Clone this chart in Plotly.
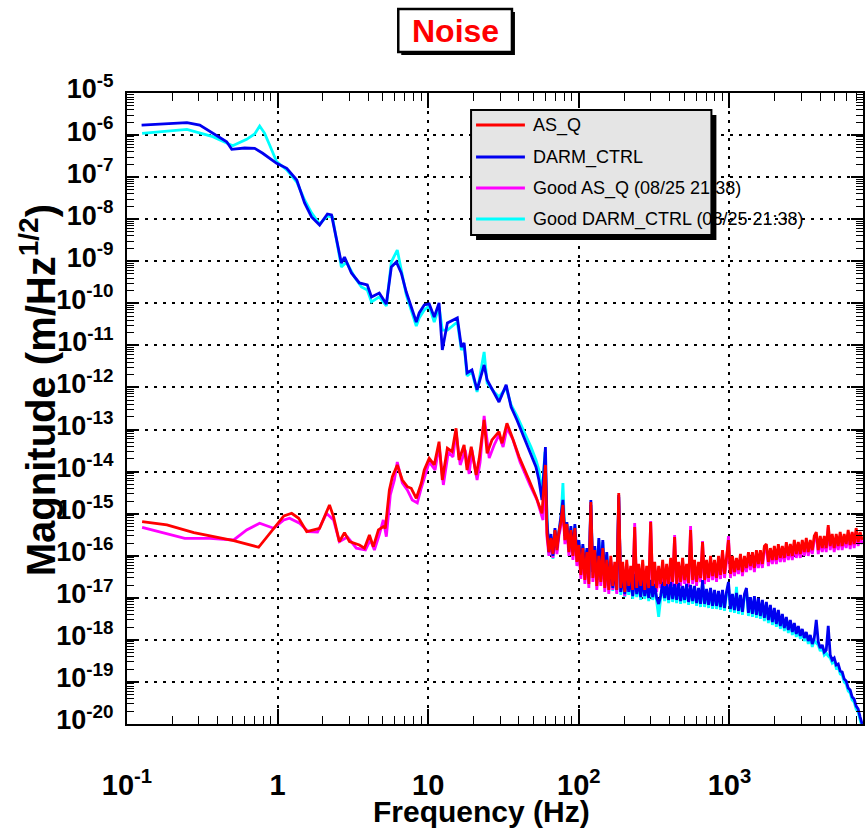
import plotly.graph_objects as go

# ---------------- data ----------------
series_names = ["AS_Q", "DARM_CTRL", "Good AS_Q (08/25 21:38)", "Good DARM_CTRL (08/25 21:38)"]
series_colors = ["#ff0000", "#0000f0", "#ff00ff", "#00ffff"]

x_tick_vals = [0.1, 1, 10, 100, 1000]
x_tick_text = ["10<sup>-1</sup>", "1", "10", "10<sup>2</sup>", "10<sup>3</sup>"]
y_tick_vals = [1e-5, 1e-6, 1e-7, 1e-8, 1e-9, 1e-10, 1e-11, 1e-12, 1e-13, 1e-14,
               1e-15, 1e-16, 1e-17, 1e-18, 1e-19, 1e-20]
y_tick_text = ["10<sup>-5</sup>", "10<sup>-6</sup>", "10<sup>-7</sup>", "10<sup>-8</sup>",
               "10<sup>-9</sup>", "10<sup>-10</sup>", "10<sup>-11</sup>", "10<sup>-12</sup>",
               "10<sup>-13</sup>", "10<sup>-14</sup>", "10<sup>-15</sup>", "10<sup>-16</sup>",
               "10<sup>-17</sup>", "10<sup>-18</sup>", "10<sup>-19</sup>", "10<sup>-20</sup>"]

# ---- low-frequency part, up to the 60 Hz line (Hz, m/Hz^1/2) ----
asq_lf_freq = [0.126, 0.184, 0.278, 0.511, 0.748, 0.941, 1.10, 1.24, 1.38, 1.56, 1.73, 1.90,
               2.21, 2.35, 2.57, 2.78, 3.0, 3.49, 3.77, 4.07, 4.32, 4.67, 5.03, 5.19, 5.52,
               5.78, 6.23, 6.73, 7.26, 7.71, 8.33, 8.99, 9.41, 10.15, 10.96, 11.8, 12.4, 13.4,
               14.4, 15.3, 16.0, 17.3, 18.1, 19.3, 20.8, 21.8, 23.5, 24.6, 26.5, 29.5, 30.9,
               33.3, 36.0, 40.1, 46.7, 51.9, 56.9, 60.0]
asq_lf_mag = [6.46e-16, 5.39e-16, 3.53e-16, 2.28e-16, 1.59e-16, 4.5e-16, 8.81e-16, 1.02e-15,
              7.78e-16, 3.73e-16, 4.1e-16, 4.5e-16, 1.61e-15, 8.49e-16, 2.16e-16, 3.53e-16,
              2.16e-16, 1.8e-16, 1.51e-16, 3.12e-16, 1.64e-16, 4.1e-16, 4.91e-16, 4.5e-16,
              3.66e-15, 7.58e-15, 1.44e-14, 6.32e-15, 4.38e-15, 4.02e-15, 2.32e-15, 5.28e-15,
              1.09e-14, 2.07e-14, 1.44e-14, 5.14e-14, 6.32e-15, 3.59e-14, 2.98e-14, 1.07e-13,
              1.89e-14, 4.3e-14, 1.09e-14, 3.91e-14, 8.32e-15, 2.07e-14, 1.69e-13, 2.73e-14,
              5.65e-14, 8.89e-14, 4.71e-14, 1.41e-13, 6.76e-14, 2.26e-14, 6.32e-15, 2.54e-15,
              1.02e-15, 1.44e-14]

darm_lf_freq = [0.125, 0.179, 0.250, 0.304, 0.394, 0.459, 0.496, 0.604, 0.704, 0.796, 0.985,
                1.15, 1.34, 1.51, 1.68, 1.90, 2.14, 2.28, 2.65, 2.78, 3.09, 3.49, 3.94, 4.20,
                4.73, 5.27, 5.69, 6.14, 6.62, 7.15, 8.33, 8.71, 9.41, 10.15, 10.96, 11.8, 12.4,
                13.4, 15.6, 16.6, 17.3, 18.1, 19.5, 21.1, 23.5, 24.6, 27.4, 29.5, 32.9, 35.5,
                38.8, 43.2, 48.1, 51.9, 54.3, 56.9, 60.0]
darm_lf_mag = [1.73e-6, 1.88e-6, 1.97e-6, 1.73e-6, 1.0e-6, 6.95e-7, 4.59e-7, 4.93e-7, 4.85e-7,
               3.69e-7, 2.13e-7, 1.62e-7, 8.55e-8, 2.43e-8, 1.13e-8, 7.28e-9, 1.33e-8, 1.26e-8,
               9.1e-10, 1.26e-9, 5.27e-10, 3.05e-10, 2.73e-10, 1.42e-10, 1.76e-10, 9.66e-11,
               7.31e-10, 9.6e-10, 5.27e-10, 1.86e-10, 3.6e-11, 5.9e-11, 9.14e-11, 9.66e-11,
               4.73e-11, 1.02e-10, 7.78e-12, 3.41e-11, 4.49e-11, 9.17e-12, 1.14e-11, 2.21e-12,
               2.61e-12, 8.71e-13, 3.43e-12, 1.51e-12, 7.4e-13, 4.52e-13, 1.15e-12, 3.44e-13,
               1.69e-13, 6.65e-14, 2.77e-14, 1.29e-14, 6.32e-15, 2.12e-15, 3.85e-14]

good_asq_lf_freq = [0.126, 0.242, 0.355, 0.511, 0.623, 0.760, 0.941, 1.10, 1.20, 1.40, 1.60,
                    1.84, 2.11, 2.35, 2.57, 2.91, 3.33, 3.83, 4.13, 4.39, 4.73, 5.03, 5.27,
                    5.60, 5.96, 6.23, 6.73, 7.26, 7.83, 8.46, 8.99, 9.55, 10.15, 11.1, 11.8,
                    12.6, 13.6, 14.6, 15.3, 16.3, 17.6, 18.7, 19.5, 21.1, 22.1, 23.5, 25.4,
                    27.4, 29.5, 31.4, 33.3, 36.6, 40.7, 47.3, 52.7, 57.8, 60.0]
good_asq_lf_mag = [4.75e-16, 2.6e-16, 2.6e-16, 2.37e-16, 4.1e-16, 5.91e-16, 4.5e-16, 7.08e-16,
                   7.78e-16, 5.91e-16, 3.73e-16, 3.67e-16, 1.02e-15, 7.08e-16, 2.16e-16,
                   2.79e-16, 1.51e-16, 1.37e-16, 2.37e-16, 1.37e-16, 3.12e-16, 7.08e-16,
                   2.84e-16, 2.78e-15, 6.32e-15, 1.69e-14, 5.37e-15, 3.66e-15, 2.12e-15,
                   1.8e-15, 4.08e-15, 8.32e-15, 1.69e-14, 1.09e-14, 4.06e-14, 4.81e-15,
                   2.93e-14, 2.23e-14, 8.75e-14, 1.44e-14, 3.27e-14, 8.79e-15, 3.27e-14,
                   6.32e-15, 1.69e-14, 2.1e-13, 2.11e-14, 4.3e-14, 7.43e-14, 3.85e-14,
                   1.09e-13, 5.65e-14, 1.69e-14, 4.81e-15, 2.12e-15, 7.08e-16, 1.09e-14]

good_darm_lf_freq = [0.126, 0.179, 0.250, 0.371, 0.503, 0.623, 0.704, 0.760, 0.820, 0.885,
                     0.985, 1.15, 1.34, 1.51, 1.68, 1.90, 2.14, 2.31, 2.65, 2.86, 3.24, 3.60,
                     3.94, 4.20, 4.73, 5.27, 5.69, 6.23, 6.62, 7.15, 8.33, 8.71, 9.41, 10.15,
                     10.96, 11.8, 12.4, 13.4, 15.6, 16.6, 17.3, 18.1, 19.5, 21.1, 23.5, 24.6,
                     27.4, 29.5, 32.9, 35.5, 38.8, 43.2, 48.1, 51.9, 54.3, 56.9, 59.6]
good_darm_lf_mag = [1.1e-6, 1.25e-6, 1.37e-6, 9.15e-7, 5.59e-7, 7.93e-7, 1.06e-6, 1.64e-6,
                    1.1e-6, 5.81e-7, 2.33e-7, 1.48e-7, 7.67e-8, 2.86e-8, 1.41e-8, 7.69e-9,
                    1.19e-8, 1.13e-8, 7.31e-10, 9.6e-10, 4.23e-10, 2.45e-10, 2.08e-10,
                    1.08e-10, 1.42e-10, 8.65e-11, 9.6e-10, 1.85e-9, 6.21e-10, 1.58e-10,
                    2.9e-11, 4.49e-11, 6.95e-11, 8.65e-11, 3.6e-11, 8.19e-11, 2.32e-11,
                    2.32e-11, 3.6e-11, 7.78e-12, 1.02e-11, 1.88e-12, 2.33e-12, 7.82e-13,
                    6.98e-12, 1.28e-12, 7.82e-13, 5.94e-13, 9.72e-13, 3.84e-13, 2.1e-13,
                    9.25e-14, 3.85e-14, 1.89e-14, 1.09e-14, 2.78e-15, 2.93e-14]

# ---- high-frequency (noisy) part: common frequency list (Hz) ----
hf_freq = [61.4, 63.3, 65.3, 67.3, 69.4, 71.5, 73.7, 76.0, 78.4, 80.8, 83.3, 85.9, 88.5, 91.3,
           94.1, 97.0,
           100, 103.1, 106.3, 109.6, 113.0, 116.5, 120.1, 123.8, 127.6, 131.6,
           135.7, 139.9, 144.2, 148.6, 153.2, 158.0, 162.9, 167.9, 173.1, 178.5,
           184.0, 189.7, 195.6, 201.7, 207.9, 214.3, 220.9, 227.8, 234.8, 242.1,
           249.6, 257.4, 265.3, 273.6, 282.0, 290.8, 299.8, 309.1, 318.6, 328.5,
           338.7, 349.2, 360.0, 371.1, 382.6, 394.5, 406.7, 419.3, 432.3, 445.7,
           459.5, 473.7, 488.4, 503.5, 519.1, 535.2, 551.8, 568.8, 586.5, 604.6,
           623.4, 642.7, 662.6, 683.1, 704.3, 726.2, 748.6, 771.8, 795.7, 820.4,
           845.8, 872.0, 899.0, 926.8, 955.3, 984.9,
           1015, 1047, 1079, 1113, 1147, 1183, 1219, 1257, 1296, 1336,
           1378, 1420, 1464, 1510, 1556, 1604, 1654, 1705, 1758, 1813,
           1869, 1927, 1986, 2048, 2111, 2177, 2244, 2314, 2385, 2459,
           2535, 2614, 2695, 2778, 2864, 2953, 3044, 3139, 3236, 3336,
           3439, 3546, 3656, 3769, 3886, 4006, 4130, 4258, 4390, 4526,
           4666, 4810, 4959, 5113, 5271, 5435, 5603, 5776, 5955, 6140,
           6330, 6526, 6728, 6936, 7151, 7373, 7601]

asq_hf_mag = [3.47e-16, 1.22e-16, 2.63e-16, 1.10e-16, 4.08e-16, 1.36e-16, 3.66e-16, 6.33e-16,
              1.61e-15, 2.36e-16, 5.67e-16, 1.22e-16, 4.08e-16, 9.9e-17, 4.55e-16, 7.11e-17,
              1.8e-16, 3.49e-17, 1.52e-16, 2.65e-17, 1.22e-16, 2.13e-17, 1.9e-15, 2.96e-17, 1.36e-16, 1.91e-17,
              9.9e-17, 2.38e-17, 1.52e-16, 1.71e-17, 7.94e-17, 1.54e-17, 9.9e-17, 1.91e-17, 7.11e-17, 1.54e-17,
              3.1e-15, 1.71e-17, 7.11e-17, 1.38e-17, 7.94e-17, 1.91e-17, 5.71e-17, 1.54e-17, 4.81e-16, 1.71e-17,
              6.37e-17, 1.91e-17, 7.94e-17, 1.54e-17, 5.71e-17, 1.71e-17, 6.33e-16, 1.91e-17, 7.11e-17, 1.71e-17,
              5.71e-17, 2.13e-17, 7.94e-17, 1.91e-17, 6.37e-17, 2.13e-17, 8.87e-17, 2.38e-17, 2.79e-16, 2.13e-17,
              7.11e-17, 2.38e-17, 8.87e-17, 2.65e-17, 6.37e-17, 2.25e-17, 4.08e-16, 2.65e-17, 7.94e-17, 2.38e-17,
              7.11e-17, 2.96e-17, 2.11e-16, 2.65e-17, 7.94e-17, 2.96e-17, 9.9e-17, 3.30e-17, 7.94e-17, 2.96e-17,
              9.9e-17, 3.49e-17, 1.36e-16, 3.69e-17, 8.87e-17, 2.36e-16,
              3.69e-17, 9.9e-17, 4.11e-17, 8.87e-17, 4.59e-17, 1.10e-16, 4.11e-17, 9.9e-17, 5.12e-17, 1.22e-16,
              5.71e-17, 1.22e-16, 5.12e-17, 1.36e-16, 6.37e-17, 1.36e-16, 6.37e-17, 1.70e-16, 1.89e-16, 7.11e-17,
              1.52e-16, 7.94e-17, 1.70e-16, 7.94e-17, 1.89e-16, 8.87e-17, 1.70e-16, 8.87e-17, 2.11e-16, 9.9e-17,
              1.89e-16, 9.9e-17, 2.36e-16, 1.10e-16, 2.11e-16, 1.10e-16, 2.36e-16, 1.22e-16, 2.63e-16, 1.22e-16,
              2.36e-16, 1.36e-16, 2.94e-16, 3.66e-16, 1.36e-16, 2.94e-16, 1.52e-16, 2.94e-16, 1.52e-16, 5.37e-16,
              1.70e-16, 3.28e-16, 1.52e-16, 3.28e-16, 1.70e-16, 3.66e-16, 1.70e-16, 3.28e-16, 1.89e-16, 4.08e-16,
              1.8e-16, 3.66e-16, 1.89e-16, 4.55e-16, 2.11e-16, 3.66e-16, 2.36e-16]

good_asq_hf_mag = [2.79e-16, 9.9e-17, 2.11e-16, 8.87e-17, 3.28e-16, 1.10e-16, 2.94e-16, 5.08e-16,
                   1.37e-15, 1.89e-16, 4.55e-16, 9.9e-17, 3.28e-16, 7.94e-17, 3.66e-16, 5.71e-17,
                   1.44e-16, 2.8e-17, 1.22e-16, 2.13e-17, 9.9e-17, 1.71e-17, 1.61e-15, 2.38e-17, 1.10e-16, 1.54e-17,
                   7.94e-17, 1.91e-17, 1.22e-16, 1.38e-17, 6.37e-17, 1.23e-17, 7.94e-17, 1.54e-17, 5.71e-17, 1.23e-17,
                   2.49e-15, 1.38e-17, 5.71e-17, 1.10e-17, 6.37e-17, 1.54e-17, 4.59e-17, 1.23e-17, 6.0e-16, 1.38e-17,
                   5.12e-17, 1.54e-17, 6.37e-17, 1.23e-17, 4.59e-17, 1.38e-17, 6.7e-16, 1.54e-17, 5.71e-17, 1.38e-17,
                   4.59e-17, 1.71e-17, 6.37e-17, 1.54e-17, 5.12e-17, 1.71e-17, 7.11e-17, 1.91e-17, 3.1e-16, 1.71e-17,
                   5.71e-17, 1.91e-17, 7.11e-17, 2.13e-17, 5.12e-17, 1.81e-17, 5.08e-16, 2.13e-17, 6.37e-17, 1.91e-17,
                   5.71e-17, 2.38e-17, 2.23e-16, 2.13e-17, 6.37e-17, 2.38e-17, 7.94e-17, 2.65e-17, 6.37e-17, 2.38e-17,
                   7.94e-17, 2.8e-17, 1.22e-16, 2.96e-17, 7.11e-17, 2.94e-16,
                   2.96e-17, 7.94e-17, 3.30e-17, 7.11e-17, 3.69e-17, 8.87e-17, 3.30e-17, 7.94e-17, 4.11e-17, 9.9e-17,
                   4.59e-17, 9.9e-17, 4.11e-17, 1.10e-16, 5.12e-17, 1.10e-16, 5.12e-17, 1.36e-16, 1.52e-16, 5.71e-17,
                   1.22e-16, 6.37e-17, 1.36e-16, 6.37e-17, 1.52e-16, 7.11e-17, 1.36e-16, 7.11e-17, 1.70e-16, 7.94e-17,
                   1.52e-16, 7.94e-17, 1.89e-16, 8.87e-17, 1.70e-16, 8.87e-17, 1.89e-16, 9.9e-17, 2.11e-16, 9.9e-17,
                   1.89e-16, 1.10e-16, 2.36e-16, 3.28e-16, 1.10e-16, 2.36e-16, 1.22e-16, 2.36e-16, 1.22e-16, 4.81e-16,
                   1.36e-16, 2.63e-16, 1.22e-16, 2.63e-16, 1.36e-16, 2.94e-16, 1.36e-16, 2.63e-16, 1.52e-16, 3.28e-16,
                   1.44e-16, 3.47e-16, 1.52e-16, 3.66e-16, 1.70e-16, 2.94e-16, 1.89e-16]

darm_hf_mag = [7.06e-16, 1.22e-16, 3.28e-16, 9.9e-17, 4.55e-16, 1.52e-16, 4.08e-16, 7.88e-16,
               2.12e-15, 2.94e-16, 6.33e-16, 1.36e-16, 5.08e-16, 1.22e-16, 5.67e-16, 9.9e-17,
               2.36e-16, 5.12e-17, 1.89e-16, 3.69e-17, 1.52e-16, 2.96e-17, 2.12e-15, 4.11e-17, 1.70e-16, 2.65e-17,
               2.63e-16, 3.30e-17, 2.36e-16, 2.38e-17, 1.22e-16, 1.91e-17, 7.11e-17, 1.71e-17, 5.12e-17, 1.54e-17,
               2.78e-15, 1.38e-17, 3.69e-17, 1.23e-17, 3.30e-17, 1.38e-17, 2.96e-17, 1.10e-17, 3.69e-17, 1.23e-17,
               2.65e-17, 1.04e-17, 2.96e-17, 1.10e-17, 2.38e-17, 9.91e-18, 2.65e-17, 1.04e-17, 2.13e-17, 9.91e-18,
               7.14e-18, 1.10e-17, 2.38e-17, 9.91e-18, 2.13e-17, 8.89e-18, 2.38e-17, 9.38e-18, 2.13e-17, 8.89e-18,
               2.25e-17, 8.4e-18, 1.91e-17, 8.89e-18, 2.13e-17, 7.96e-18, 2.02e-17, 8.4e-18, 1.91e-17, 7.53e-18,
               1.71e-17, 7.14e-18, 2.65e-17, 7.14e-18, 1.62e-17, 6.77e-18, 1.71e-17, 6.40e-18, 1.54e-17, 6.40e-18,
               1.46e-17, 6.05e-18, 1.54e-17, 5.73e-18, 1.38e-17, 2.38e-17,
               5.43e-18, 1.23e-17, 5.14e-18, 1.31e-17, 4.87e-18, 1.17e-17, 4.61e-18, 1.23e-17, 1.71e-17, 4.37e-18,
               1.04e-17, 4.13e-18, 1.10e-17, 3.91e-18, 9.91e-18, 3.70e-18, 8.89e-18, 3.32e-18, 7.96e-18, 2.97e-18,
               6.77e-18, 2.66e-18, 5.73e-18, 2.39e-18, 5.14e-18, 2.14e-18, 4.13e-18, 1.92e-18, 3.51e-18, 1.72e-18,
               2.97e-18, 1.54e-18, 2.52e-18, 1.38e-18, 2.14e-18, 1.24e-18, 1.82e-18, 1.11e-18, 1.54e-18, 9.4e-19,
               1.31e-18, 7.98e-19, 1.11e-18, 2.97e-18, 8.9e-19, 6.41e-19, 7.55e-19, 5.15e-19, 5.74e-19, 2.14e-18,
               4.37e-19, 3.32e-19, 3.71e-19, 2.53e-19, 2.67e-19, 1.82e-19, 1.72e-19, 1.17e-19, 1.05e-19, 7.15e-20,
               6.4e-20, 4.37e-20, 3.91e-20, 2.67e-20, 2.26e-20, 1.46e-20, 9.95e-21]

good_darm_hf_mag = [9.3e-16, 1.04e-16, 2.94e-16, 8.4e-17, 4.08e-16, 1.29e-16, 3.66e-16, 7.06e-16,
                    5.37e-15, 2.63e-16, 5.67e-16, 1.16e-16, 4.55e-16, 1.04e-16, 5.08e-16, 8.4e-17,
                    2.11e-16, 4.35e-17, 1.70e-16, 3.13e-17, 1.36e-16, 2.5e-17, 1.61e-15, 3.49e-17, 1.52e-16, 2.25e-17,
                    2.36e-16, 2.8e-17, 2.11e-16, 2.02e-17, 1.10e-16, 1.62e-17, 6.37e-17, 1.46e-17, 4.59e-17, 1.31e-17,
                    2.49e-15, 1.17e-17, 3.30e-17, 1.04e-17, 2.96e-17, 1.17e-17, 2.65e-17, 9.38e-18, 3.30e-17, 1.04e-17,
                    2.38e-17, 8.89e-18, 2.65e-17, 9.38e-18, 2.13e-17, 8.4e-18, 2.38e-17, 8.89e-18, 1.91e-17, 8.4e-18,
                    3.51e-18, 9.38e-18, 2.13e-17, 8.4e-18, 1.91e-17, 7.53e-18, 2.13e-17, 7.96e-18, 1.91e-17, 7.53e-18,
                    2.02e-17, 7.14e-18, 1.71e-17, 7.53e-18, 1.91e-17, 6.77e-18, 1.81e-17, 7.14e-18, 1.71e-17, 6.40e-18,
                    1.54e-17, 6.05e-18, 2.25e-17, 6.05e-18, 1.46e-17, 5.73e-18, 1.54e-17, 5.43e-18, 1.38e-17, 5.43e-18,
                    1.31e-17, 5.14e-18, 1.38e-17, 4.87e-18, 1.23e-17, 2.02e-17,
                    4.61e-18, 1.10e-17, 4.37e-18, 1.81e-17, 4.13e-18, 1.04e-17, 3.91e-18, 1.10e-17, 1.54e-17, 3.70e-18,
                    9.38e-18, 3.51e-18, 9.91e-18, 3.32e-18, 8.89e-18, 3.14e-18, 7.96e-18, 2.8e-18, 7.14e-18, 2.52e-18,
                    6.05e-18, 2.26e-18, 5.14e-18, 2.03e-18, 4.61e-18, 1.82e-18, 3.70e-18, 1.63e-18, 3.14e-18, 1.46e-18,
                    2.66e-18, 1.31e-18, 2.26e-18, 1.17e-18, 1.92e-18, 1.05e-18, 1.63e-18, 9.4e-19, 1.38e-18, 7.98e-19,
                    1.17e-18, 6.77e-19, 9.95e-19, 8.4e-19, 7.55e-19, 5.44e-19, 6.41e-19, 4.37e-19, 4.87e-19, 4.13e-19,
                    3.71e-19, 2.82e-19, 3.14e-19, 2.14e-19, 2.27e-19, 1.54e-19, 1.46e-19, 9.95e-20, 8.9e-20, 6.06e-20,
                    5.44e-20, 3.71e-20, 3.32e-20, 2.26e-20, 1.92e-20, 1.24e-20, 8.43e-21]

# ---------------- layout geometry ----------------
W, H = 867, 832
ML, MR, MT, MB = 127, 2, 93, 108
PW = W - ML - MR
PH = H - MT - MB


def px(x):
    return (x - ML) / PW


def py(y):
    return (H - MB - y) / PH


FONT = "Liberation Sans, Arial, Helvetica, sans-serif"

series = [
    (good_darm_lf_freq + hf_freq, good_darm_lf_mag + good_darm_hf_mag, 3),
    (good_asq_lf_freq + hf_freq, good_asq_lf_mag + good_asq_hf_mag, 2),
    (darm_lf_freq + hf_freq, darm_lf_mag + darm_hf_mag, 1),
    (asq_lf_freq + hf_freq, asq_lf_mag + asq_hf_mag, 0),
]

fig = go.Figure()
for fx, my, idx in series:
    n = min(len(fx), len(my))
    fig.add_trace(go.Scatter(x=fx[:n], y=my[:n], mode="lines", name=series_names[idx],
                             line=dict(color=series_colors[idx], width=2.8),
                             showlegend=False))

x_minor = [k * 10.0 ** d for d in range(-1, 4) for k in range(2, 10)]
y_minor = [k * 10.0 ** d for d in range(-20, -5) for k in range(2, 10)]

axis_common = dict(
    type="log", showline=True, linewidth=2, linecolor="black", mirror="ticks",
    ticks="inside", tickwidth=1.6, tickcolor="black",
    showgrid=True, gridcolor="black", gridwidth=2, griddash="3px,6px",
    zeroline=False,
)

fig.update_layout(
    width=W, height=H,
    margin=dict(l=ML, r=MR, t=MT, b=MB, pad=0),
    paper_bgcolor="white", plot_bgcolor="white",
    xaxis=dict(axis_common, range=[-1, 3.8865], tickmode="array",
               tickvals=x_tick_vals, ticktext=x_tick_text, ticklen=15,
               ticklabelstandoff=34,
               tickfont=dict(family=FONT, size=29, color="black", weight="bold"),
               minor=dict(ticks="inside", ticklen=8, tickwidth=1.2, tickcolor="black",
                          tickmode="array", tickvals=x_minor, showgrid=False)),
    yaxis=dict(axis_common, range=[-20, -5], tickmode="array",
               tickvals=y_tick_vals, ticktext=y_tick_text, ticklen=12,
               ticklabelstandoff=6, ticklabelshift=-4,
               tickfont=dict(family=FONT, size=27, color="black", weight="bold"),
               minor=dict(ticks="inside", ticklen=7, tickwidth=1.2, tickcolor="black",
                          tickmode="array", tickvals=y_minor, showgrid=False)),
)

shapes = []
annotations = []

# title box with shadow
shapes.append(dict(type="rect", xref="paper", yref="paper", layer="above",
                   x0=px(402), x1=px(516), y0=py(55), y1=py(12),
                   fillcolor="black", line=dict(width=0)))
shapes.append(dict(type="rect", xref="paper", yref="paper", layer="above",
                   x0=px(399), x1=px(513), y0=py(52), y1=py(9),
                   fillcolor="white", line=dict(color="black", width=2.5)))
annotations.append(dict(text="<b>Noise</b>", xref="paper", yref="paper",
                        x=px(456), y=py(31), xanchor="center", yanchor="middle",
                        showarrow=False, font=dict(family=FONT, size=32, color="#ff0000")))

# legend box with shadow
shapes.append(dict(type="rect", xref="paper", yref="paper", layer="above",
                   x0=px(477), x1=px(718), y0=py(240), y1=py(115),
                   fillcolor="black", line=dict(width=0)))
shapes.append(dict(type="rect", xref="paper", yref="paper", layer="above",
                   x0=px(472), x1=px(713), y0=py(235), y1=py(110),
                   fillcolor="#e5e5e5", line=dict(color="black", width=2)))
legend_rows = [125, 157, 188, 219]
for i, yy in enumerate(legend_rows):
    shapes.append(dict(type="line", xref="paper", yref="paper", layer="above",
                       x0=px(477), x1=px(526), y0=py(yy), y1=py(yy),
                       line=dict(color=series_colors[i], width=3)))
    annotations.append(dict(text=series_names[i], xref="paper", yref="paper",
                            x=px(532), y=py(yy), xanchor="left", yanchor="middle",
                            showarrow=False,
                            font=dict(family=FONT, size=18, color="black")))

# axis titles
annotations.append(dict(text="<b>Frequency (Hz)</b>", xref="paper", yref="paper",
                        x=px(482), y=py(811), xanchor="center", yanchor="middle",
                        showarrow=False, font=dict(family=FONT, size=30, color="black")))
annotations.append(dict(text="<b>Magnitude (m/Hz<sup>1/2</sup>)</b>", xref="paper",
                        yref="paper", x=px(38), y=py(390), xanchor="center",
                        yanchor="middle", textangle=-90, showarrow=False,
                        font=dict(family=FONT, size=40, color="black")))

fig.update_layout(shapes=shapes, annotations=annotations)

fig.write_html("out.html")
